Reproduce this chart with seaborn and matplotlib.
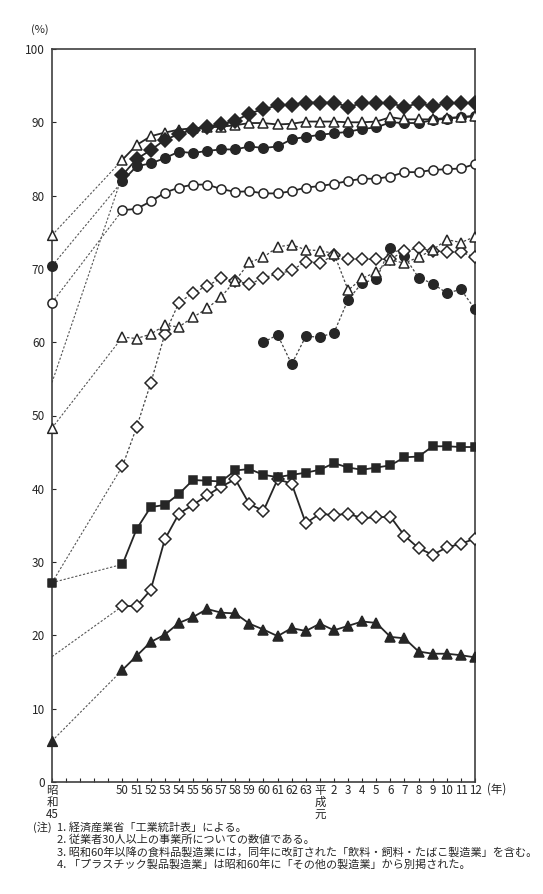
import matplotlib
matplotlib.use("Agg")
import matplotlib.pyplot as plt
import seaborn as sns
import pandas as pd

# years: 昭和45 (1970), then 昭和50 (1975) .. 平成12 (2000)
years = [1970] + list(range(1975, 2001))
years_plastic = list(range(1985, 2001))

diamond_top = [54.5, 82.8, 85.0, 86.2, 87.6, 88.4, 89.0, 89.4, 89.7, 90.2, 91.2, 91.8, 92.3, 92.4,
               92.7, 92.7, 92.7, 92.1, 92.6, 92.7, 92.6, 92.1, 92.6, 92.2, 92.6, 92.6, 92.7]
tri_top = [74.6, 84.9, 86.9, 88.1, 88.6, 89.0, 89.2, 89.3, 89.4, 89.6, 89.9, 89.9, 89.7, 89.8,
           90.1, 90.1, 90.1, 90.0, 90.0, 90.1, 90.7, 90.4, 90.4, 90.4, 90.6, 90.7, 90.9]
circ_top = [70.4, 82.0, 84.0, 84.4, 85.1, 86.0, 85.8, 86.1, 86.3, 86.3, 86.7, 86.5, 86.7, 87.7,
            88.0, 88.3, 88.5, 88.7, 89.1, 89.3, 90.0, 89.9, 89.9, 90.3, 90.5, 90.7, 90.8]
open_circ = [65.4, 78.0, 78.2, 79.2, 80.4, 81.1, 81.5, 81.5, 80.9, 80.5, 80.6, 80.3, 80.3, 80.6,
             81.1, 81.3, 81.6, 82.0, 82.3, 82.3, 82.6, 83.2, 83.2, 83.5, 83.6, 83.7, 84.3]
tri_mid = [48.3, 60.7, 60.5, 61.1, 62.3, 62.1, 63.4, 64.6, 66.2, 68.4, 70.9, 71.6, 73.0, 73.3,
           72.6, 72.5, 72.1, 67.1, 68.7, 69.6, 71.2, 70.8, 71.6, 72.6, 74.0, 73.6, 74.4]
diamond_mid = [27.2, 43.1, 48.4, 54.4, 61.1, 65.4, 66.7, 67.7, 68.7, 68.4, 67.9, 68.8, 69.3, 69.8,
               71.0, 70.8, 71.9, 71.4, 71.3, 71.3, 71.3, 72.5, 72.8, 72.5, 72.3, 72.3, 71.6]
plastic = [60.0, 61.0, 57.0, 60.8, 60.7, 61.3, 65.8, 68.1, 68.6, 72.9, 71.7, 68.8, 68.0, 66.7,
           67.2, 64.5]
square = [27.2, 29.7, 34.5, 37.5, 37.8, 39.3, 41.2, 41.1, 41.0, 42.5, 42.7, 41.9, 41.6, 41.9,
          42.2, 42.6, 43.5, 42.9, 42.6, 42.9, 43.2, 44.3, 44.4, 45.8, 45.8, 45.7, 45.7]
diamond_low = [17.1, 24.0, 24.0, 26.2, 33.1, 36.6, 37.8, 39.1, 40.3, 41.3, 37.9, 37.0, 41.3, 40.7,
               35.3, 36.6, 36.4, 36.6, 36.0, 36.1, 36.2, 33.6, 31.9, 31.0, 32.0, 32.5, 33.2]
tri_low = [5.6, 15.3, 17.2, 19.1, 20.1, 21.7, 22.5, 23.6, 23.1, 23.0, 21.6, 20.8, 19.9, 21.0,
           20.6, 21.6, 20.7, 21.3, 21.9, 21.7, 19.8, 19.6, 17.8, 17.5, 17.5, 17.3, 17.0]

xtick_pos = list(range(1970, 2001))
xtick_lab = ['昭\n和\n45', '', '', '', '', '50', '51', '52', '53', '54', '55', '56', '57', '58',
             '59', '60', '61', '62', '63', '平\n成\n元', '2', '3', '4', '5', '6', '7', '8', '9',
             '10', '11', '12']

notes = ['1. 経済産業省「工業統計表」による。',
         '2. 従業者30人以上の事業所についての数値である。',
         '3. 昭和60年以降の食料品製造業には，同年に改訂された「飲料・飼料・たばこ製造業」を含む。',
         '4. 「プラスチック製品製造業」は昭和60年に「その他の製造業」から別掲された。']

sns.set_style("ticks")
plt.rcParams['font.family'] = ['Noto Sans CJK JP', 'DejaVu Sans']

fig = plt.figure(figsize=(5.43, 8.94), dpi=100)
ax = fig.add_axes([52/543, 1-782/894, (475-52)/543, (782-49)/894])

INK = '#262626'
DOT = (0, (2, 1.6))


def draw(yrs, vals, marker, ms, filled, dotted_all=False, first_marker=True):
    df = pd.DataFrame({'year': yrs, 'val': vals})
    fc = INK if filled else 'white'
    # connecting segment 1970 -> 1975, thin dotted
    if yrs[0] == 1970:
        sns.lineplot(data=df.iloc[:2], x='year', y='val', ax=ax, color='#555555',
                     lw=0.8, linestyle=DOT, zorder=2)
        rest = df.iloc[1:]
    else:
        rest = df
    sns.lineplot(data=rest, x='year', y='val', ax=ax, color=INK if not dotted_all else '#444444',
                 lw=1.3 if not dotted_all else 0.9, linestyle=DOT if dotted_all else '-',
                 marker=marker, markersize=ms, markerfacecolor=fc, markeredgecolor=INK,
                 markeredgewidth=1.1, zorder=3)
    if yrs[0] == 1970 and first_marker:
        sns.scatterplot(data=df.iloc[:1], x='year', y='val', ax=ax, marker=marker,
                        s=ms**2, color=fc, edgecolor=INK, linewidth=1.1, zorder=4,
                        clip_on=False)


draw(years, tri_low, '^', 7.0, True)
draw(years, diamond_low, 'D', 6.6, False, first_marker=False)
draw(years, square, 's', 6.4, True)
draw(years_plastic, plastic, 'o', 6.8, True, dotted_all=True)
draw(years, diamond_mid, 'D', 6.6, False, dotted_all=True, first_marker=False)
draw(years, tri_mid, '^', 7.0, False, dotted_all=True)
draw(years, open_circ, 'o', 6.6, False)
draw(years, circ_top, 'o', 6.8, True)
draw(years, tri_top, '^', 7.0, False)
draw(years, diamond_top, 'D', 7.2, True, first_marker=False)

ax.set_xlim(1970, 2000)
ax.set_ylim(0, 100)
ax.set_yticks(range(0, 101, 10))
ax.set_xticks(xtick_pos)
ax.set_xticklabels(xtick_lab, fontsize=8.3, linespacing=0.92)
ax.tick_params(axis='y', labelsize=8.5, direction='in', length=3, pad=5, colors=INK)
ax.tick_params(axis='x', direction='in', length=3, pad=1.5, colors=INK)
ax.set_xlabel('')
ax.set_ylabel('')
for sp in ax.spines.values():
    sp.set_visible(True)
    sp.set_color('#404040')
    sp.set_linewidth(1.2)

fig.text(40/543, 1-30/894, '(%)', fontsize=8, ha='center', va='center', color=INK)
fig.text(487/543, 1-789/894, '(年)', fontsize=8.3, ha='left', va='center', color=INK)
fig.text(33/543, 1-827/894, '(注)', fontsize=8, ha='left', va='center', color=INK)
for i, line in enumerate(notes):
    fig.text(57/543, 1-(827 + 12.6*i)/894, line, fontsize=8, ha='left', va='center',
             color=INK)

fig.savefig('out.png', dpi=100, facecolor='white')
